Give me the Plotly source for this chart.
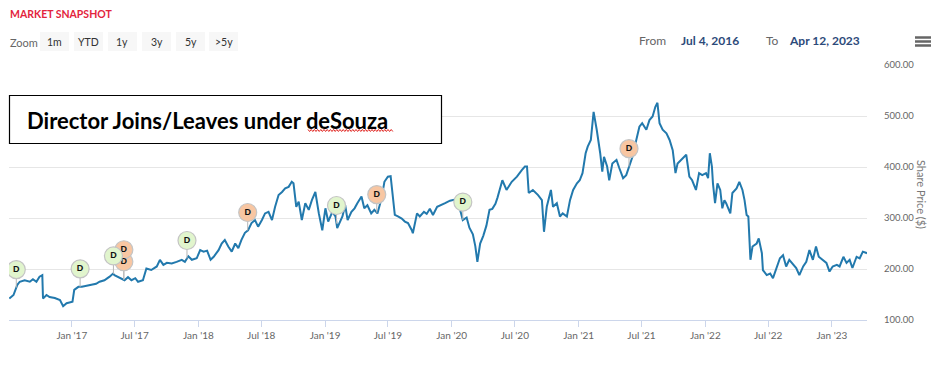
import plotly.graph_objects as go
import numpy as np
import pandas as pd

# ---------------- data ----------------
dates = [
    "2016-07-05", "2016-07-17", "2016-07-28", "2016-08-04", "2016-08-18", "2016-09-02", "2016-09-11",
    "2016-09-21", "2016-09-30", "2016-10-08", "2016-10-10", "2016-10-20", "2016-10-29", "2016-11-13",
    "2016-11-28", "2016-12-07", "2016-12-17", "2017-01-03", "2017-01-08", "2017-01-20", "2017-01-30",
    "2017-02-13", "2017-02-27", "2017-03-12", "2017-03-22", "2017-04-05", "2017-04-20", "2017-04-30",
    "2017-05-04", "2017-05-14", "2017-05-24", "2017-06-02", "2017-06-12", "2017-06-22", "2017-07-03",
    "2017-07-11", "2017-07-25", "2017-08-04", "2017-08-18", "2017-09-03", "2017-09-12", "2017-09-22",
    "2017-10-02", "2017-10-16", "2017-10-30", "2017-11-14", "2017-11-23", "2017-12-03", "2017-12-13",
    "2017-12-27", "2018-01-06", "2018-01-16", "2018-01-26", "2018-02-05", "2018-02-14", "2018-02-28",
    "2018-03-09", "2018-03-18", "2018-03-28", "2018-04-07", "2018-04-17", "2018-04-26", "2018-05-05",
    "2018-05-15", "2018-05-24", "2018-06-03", "2018-06-13", "2018-06-22", "2018-07-03", "2018-07-12",
    "2018-07-22", "2018-08-01", "2018-08-10", "2018-08-20", "2018-08-30", "2018-09-08", "2018-09-18",
    "2018-09-27", "2018-10-02", "2018-10-10", "2018-10-17", "2018-10-26", "2018-11-05", "2018-11-15",
    "2018-11-24", "2018-12-04", "2018-12-14", "2018-12-24", "2019-01-02", "2019-01-10", "2019-01-22",
    "2019-01-31", "2019-02-05", "2019-02-20", "2019-02-28", "2019-03-07", "2019-03-18", "2019-03-27",
    "2019-04-04", "2019-04-16", "2019-04-24", "2019-05-03", "2019-05-14", "2019-05-23", "2019-06-01",
    "2019-06-13", "2019-06-21", "2019-07-01", "2019-07-09", "2019-07-15", "2019-07-21", "2019-07-30",
    "2019-08-10", "2019-08-19", "2019-08-28", "2019-09-08", "2019-09-11", "2019-09-23", "2019-10-01",
    "2019-10-13", "2019-10-21", "2019-10-30", "2019-11-08", "2019-11-20", "2019-12-01", "2019-12-13",
    "2019-12-27", "2020-01-10", "2020-01-21", "2020-02-02", "2020-02-13", "2020-02-21", "2020-03-02",
    "2020-03-09", "2020-03-15", "2020-03-23", "2020-04-01", "2020-04-10", "2020-04-19", "2020-04-27",
    "2020-05-06", "2020-05-12", "2020-05-26", "2020-06-07", "2020-06-22", "2020-07-07", "2020-07-21",
    "2020-07-30", "2020-08-05", "2020-08-10", "2020-08-22", "2020-09-06", "2020-09-17", "2020-09-23",
    "2020-10-01", "2020-10-13", "2020-10-19", "2020-10-30", "2020-11-08", "2020-11-16", "2020-11-28",
    "2020-12-07", "2020-12-16", "2020-12-27", "2021-01-04", "2021-01-12", "2021-01-21", "2021-01-27",
    "2021-02-05", "2021-02-10", "2021-02-13", "2021-02-22", "2021-02-27", "2021-03-04", "2021-03-10",
    "2021-03-15", "2021-03-24", "2021-03-30", "2021-04-08", "2021-04-20", "2021-04-28", "2021-05-09",
    "2021-05-18", "2021-05-29", "2021-06-05", "2021-06-16", "2021-06-25", "2021-07-03", "2021-07-15",
    "2021-07-24", "2021-08-02", "2021-08-10", "2021-08-16", "2021-08-22", "2021-08-31", "2021-09-11",
    "2021-09-20", "2021-09-29", "2021-10-07", "2021-10-13", "2021-10-27", "2021-11-07", "2021-11-16",
    "2021-11-24", "2021-12-05", "2021-12-14", "2021-12-23", "2022-01-03", "2022-01-09", "2022-01-14",
    "2022-01-20", "2022-01-23", "2022-01-29", "2022-02-05", "2022-02-13", "2022-02-19", "2022-02-25",
    "2022-03-02", "2022-03-14", "2022-03-20", "2022-04-01", "2022-04-09", "2022-04-18", "2022-04-24",
    "2022-04-30", "2022-05-05", "2022-05-11", "2022-05-17", "2022-05-29", "2022-06-04", "2022-06-13",
    "2022-06-16", "2022-06-27", "2022-07-07", "2022-07-15", "2022-07-27", "2022-08-04", "2022-08-13",
    "2022-08-22", "2022-08-31", "2022-09-11", "2022-09-20", "2022-09-29", "2022-10-10", "2022-10-19",
    "2022-10-28", "2022-11-07", "2022-11-16", "2022-11-24", "2022-12-05", "2022-12-16", "2022-12-25",
    "2023-01-03", "2023-01-15", "2023-01-23", "2023-02-03", "2023-02-12", "2023-02-21", "2023-03-01",
    "2023-03-13", "2023-03-22", "2023-03-31", "2023-04-12",
]
prices = [
    142, 149, 169, 175, 178, 175, 180,
    175, 185, 188, 142, 149, 145, 143,
    139, 127, 133, 136, 159, 165, 165,
    167, 169, 171, 175, 178, 185, 191,
    188, 185, 182, 178, 184, 178, 182,
    175, 178, 201, 198, 205, 218, 208,
    212, 211, 214, 218, 214, 225, 218,
    221, 237, 234, 236, 218, 224, 237,
    250, 257, 244, 234, 250, 241, 257,
    271, 276, 290, 296, 283, 296, 309,
    312, 296, 322, 345, 351, 358, 361,
    371, 368, 322, 332, 296, 329, 316,
    335, 351, 309, 276, 319, 293, 312,
    303, 280, 303, 325, 296, 312, 319,
    329, 342, 319, 325, 309, 316, 309,
    339, 371, 381, 382, 349, 306, 303,
    299, 293, 290, 276, 270, 309, 303,
    312, 308, 318, 306, 322, 325, 329,
    334, 336, 327, 296, 301, 281, 268,
    245, 214, 250, 265, 285, 316, 318,
    328, 340, 374, 355, 371, 381, 394,
    401, 401, 349, 355, 345, 335, 273,
    322, 355, 322, 329, 303, 309, 303,
    335, 355, 368, 374, 388, 427, 440,
    453, 492, 508, 473, 453, 427, 391,
    420, 401, 374, 407, 414, 398, 378,
    384, 407, 420, 453, 479, 486, 473,
    492, 499, 518, 526, 486, 473, 466,
    453, 433, 388, 407, 417, 424, 381,
    374, 355, 388, 384, 388, 378, 427,
    401, 368, 329, 368, 355, 319, 335,
    329, 309, 349, 358, 371, 355, 335,
    306, 303, 218, 244, 250, 260, 231,
    198, 188, 191, 182, 208, 221, 227,
    205, 218, 208, 202, 188, 205, 214,
    237, 218, 244, 224, 218, 212, 195,
    205, 208, 205, 224, 212, 218, 202,
    224, 221, 234, 231,
]

flag_dates = ["2016-07-25", "2017-01-25", "2017-05-01", "2017-05-31", "2017-05-31", "2017-11-29",
              "2018-05-23", "2019-02-03", "2019-05-30", "2020-02-02", "2021-05-26"]
flag_kinds = ["join", "join", "join", "leave", "leave", "join",
              "leave", "join", "leave", "join", "leave"]

x_tick_dates = ["2017-01-01", "2017-07-01", "2018-01-01", "2018-07-01", "2019-01-01", "2019-07-01",
                "2020-01-01", "2020-07-01", "2021-01-01", "2021-07-01", "2022-01-01", "2022-07-01",
                "2023-01-01"]
x_tick_labels = ["Jan '17", "Jul '17", "Jan '18", "Jul '18", "Jan '19", "Jul '19", "Jan '20",
                 "Jul '20", "Jan '21", "Jul '21", "Jan '22", "Jul '22", "Jan '23"]
y_ticks = [100, 200, 300, 400, 500, 600]
x_range = ["2016-07-04", "2023-04-12"]
y_range = [100, 600]

zoom_buttons = ["1m", "YTD", "1y", "3y", "5y", ">5y"]

# ---------------- layout geometry ----------------
FIG_W, FIG_H = 942, 365
L, R, T, B = 9, 867, 65, 320
PW, PH = R - L, B - T


def px(x):
    return (x - L) / PW


def py(y):
    return (B - y) / PH


units_per_px = (y_range[1] - y_range[0]) / PH

# ---------------- flags ----------------
d_num = pd.to_datetime(pd.Series(dates)).astype("int64").to_numpy()
f_num = pd.to_datetime(pd.Series(flag_dates)).astype("int64").to_numpy()
anchors = np.interp(f_num, d_num, np.array(prices, dtype=float))

flag_off_px = 18
stack_px = 12
flag_y = []
seen = {}
for d, a in zip(flag_dates, anchors):
    k = seen.get(d, 0)
    seen[d] = k + 1
    flag_y.append(a + (flag_off_px + k * stack_px) * units_per_px)

stem_x, stem_y = [], []
for d, a, fy in zip(flag_dates, anchors, flag_y):
    stem_x += [d, d, None]
    stem_y += [a, fy, None]

fig = go.Figure()
fig.add_trace(go.Scatter(x=dates, y=prices, mode="lines",
                         line=dict(color="#2279ad", width=2), hoverinfo="skip", showlegend=False))
fig.add_trace(go.Scatter(x=stem_x, y=stem_y, mode="lines",
                         line=dict(color="#b5b5b5", width=1), hoverinfo="skip", showlegend=False))

colors = {"leave": "#f8c6a2", "join": "#e1f5cd"}
for kind in ["leave", "join"]:
    idx = [i for i, k in enumerate(flag_kinds) if k == kind]
    fig.add_trace(go.Scatter(
        x=[flag_dates[i] for i in idx], y=[flag_y[i] for i in idx],
        mode="markers+text", text=["<b>D</b>"] * len(idx), textposition="middle center",
        textfont=dict(family="Arial", size=9, color="#111"),
        marker=dict(size=18, color=colors[kind], line=dict(color="#c4c4c4", width=1.2)),
        hoverinfo="skip", showlegend=False))

# ---------------- decorations ----------------
shapes = []
annotations = []

# y axis title
annotations.append(dict(x=px(922), y=py(194), xref="paper", yref="paper", text="Share Price ($)",
                        textangle=90, showarrow=False, font=dict(family="Lato", size=11, color="#777"),
                        xanchor="center", yanchor="middle"))

# header
annotations.append(dict(x=px(8), y=py(14), xref="paper", yref="paper", text="<b>MARKET SNAPSHOT</b>",
                        showarrow=False, xanchor="left", yanchor="middle",
                        font=dict(family="Lato", size=10.5, color="#e3243d")))
annotations.append(dict(x=px(8), y=py(42), xref="paper", yref="paper", text="Zoom",
                        showarrow=False, xanchor="left", yanchor="middle",
                        font=dict(family="Lato", size=11, color="#666")))
bx = [40, 74, 108, 142, 176, 209]
for lab, x0 in zip(zoom_buttons, bx):
    shapes.append(dict(type="rect", xref="paper", yref="paper", x0=px(x0), x1=px(x0 + 29),
                       y0=py(51), y1=py(32), fillcolor="#f7f7f7", line=dict(width=0), layer="below"))
    annotations.append(dict(x=px(x0 + 14.5), y=py(41.5), xref="paper", yref="paper", text=lab,
                            showarrow=False, xanchor="center", yanchor="middle",
                            font=dict(family="Lato", size=10.5, color="#333")))

annotations.append(dict(x=px(637), y=py(41), xref="paper", yref="paper", text="From",
                        showarrow=False, xanchor="left", yanchor="middle",
                        font=dict(family="Lato", size=12, color="#666")))
annotations.append(dict(x=px(679), y=py(41), xref="paper", yref="paper", text="<b>Jul 4, 2016</b>",
                        showarrow=False, xanchor="left", yanchor="middle",
                        font=dict(family="Lato", size=12, color="#2d4a7a")))
annotations.append(dict(x=px(764), y=py(41), xref="paper", yref="paper", text="To",
                        showarrow=False, xanchor="left", yanchor="middle",
                        font=dict(family="Lato", size=12, color="#666")))
annotations.append(dict(x=px(787), y=py(41), xref="paper", yref="paper", text="<b>Apr 12, 2023</b>",
                        showarrow=False, xanchor="left", yanchor="middle",
                        font=dict(family="Lato", size=12, color="#2d4a7a")))

# hamburger menu icon
for yy in [37.5, 41.5, 45.5]:
    shapes.append(dict(type="line", xref="paper", yref="paper", x0=px(915), x1=px(931),
                       y0=py(yy), y1=py(yy), line=dict(color="#666", width=2.5)))

# text box
shapes.append(dict(type="rect", xref="paper", yref="paper", x0=px(9.5), x1=px(441.5),
                   y0=py(143.5), y1=py(95.5), fillcolor="white", line=dict(color="black", width=1.2)))
annotations.append(dict(x=px(25), y=py(120), xref="paper", yref="paper",
                        text="<b>Director Joins/Leaves under deSouza</b>",
                        showarrow=False, xanchor="left", yanchor="middle",
                        font=dict(family="Lato", size=22, color="black")))
# spell-check squiggle
pts = []
xx = 308.0
up = True
while xx <= 393:
    pts.append((px(xx), py(129.5 if up else 131.5)))
    up = not up
    xx += 1.6
path = "M " + " L ".join(f"{a:.5f},{b:.5f}" for a, b in pts)
shapes.append(dict(type="path", xref="paper", yref="paper", path=path,
                   line=dict(color="#e0201c", width=1)))

fig.update_layout(
    width=FIG_W, height=FIG_H,
    margin=dict(l=L, r=FIG_W - R, t=T, b=FIG_H - B),
    paper_bgcolor="white", plot_bgcolor="white",
    font=dict(family="Lato", color="#666"),
    shapes=shapes, annotations=annotations,
    xaxis=dict(type="date", range=x_range, tickvals=x_tick_dates, ticktext=x_tick_labels,
               ticks="outside", ticklen=6, tickcolor="#ccd6eb", tickwidth=1,
               showline=True, linecolor="#ccd6eb", linewidth=1, showgrid=False, zeroline=False,
               tickfont=dict(family="Lato", size=10, color="#666"), fixedrange=True),
    yaxis=dict(range=y_range, side="right", tickvals=y_ticks,
               ticktext=[f"{v:.2f}" for v in y_ticks], showgrid=True, gridcolor="#e6e6e6",
               zeroline=False, showline=False, ticks="", ticklabelstandoff=16,
               tickfont=dict(family="Lato", size=9.5, color="#666"), fixedrange=True),
)

fig.write_html("out.html", config={"displayModeBar": False},
               post_script="document.body.style.margin='0';document.body.style.padding='0';")
